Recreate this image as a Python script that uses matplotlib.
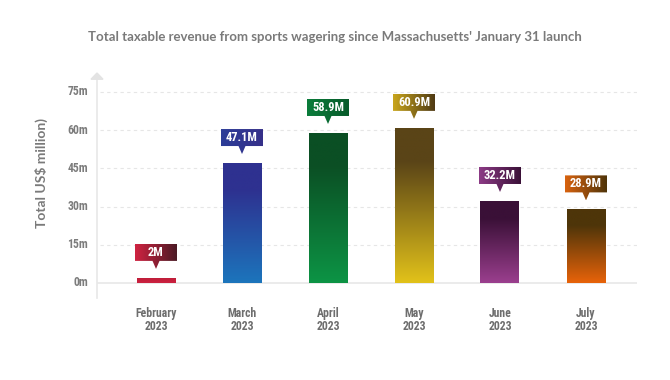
import numpy as np
import matplotlib
matplotlib.use("Agg")
import matplotlib.pyplot as plt
from matplotlib.colors import LinearSegmentedColormap
from matplotlib.patches import Polygon

categories = ["February\n2023", "March\n2023", "April\n2023", "May\n2023", "June\n2023", "July\n2023"]
values = [2.0, 47.1, 58.9, 60.9, 32.2, 28.9]
labels = ["2M", "47.1M", "58.9M", "60.9M", "32.2M", "28.9M"]
yticks = [0, 15, 30, 45, 60, 75]
yticklabels = ["0m", "15m", "30m", "45m", "60m", "75m"]

bar_top = ["#c01e3a", "#2e3190", "#0b4f24", "#5a4417", "#3a1037", "#4e3509"]
bar_bot = ["#cc2240", "#1c75bc", "#0d9445", "#e2c21a", "#9b3f8e", "#e8630a"]
box_left = ["#d02341", "#2b3c98", "#0b7d3b", "#c9a61d", "#8c3b86", "#d9630f"]
box_right = ["#4b1a25", "#363089", "#075a2a", "#4f3a14", "#3a1037", "#4f3409"]

COND = ["Roboto Condensed", "Open Sans Condensed", "Liberation Sans Narrow",
        "Roboto", "DejaVu Sans"]
GRAY = "#7c7c7c"

W, H = 670, 380
fig = plt.figure(figsize=(W / 100, H / 100), dpi=100)
fig.patch.set_facecolor("white")

x_left_px, x_right_px = 97, 637
y_bot_px, y_top_px = 298, 75
ax = fig.add_axes([x_left_px / W, (H - y_bot_px) / H,
                   (x_right_px - x_left_px) / W, (y_bot_px - y_top_px) / H])
ppx = 86.0
ppy = 2.547
XL = (-(156 - x_left_px) / ppx, (x_right_px - 156) / ppx)
YL = (-(y_bot_px - 283) / ppy, (283 - y_top_px) / ppy)
ax.set_xlim(*XL)
ax.set_ylim(*YL)
for s in ax.spines.values():
    s.set_visible(False)
ax.set_xticks([])
ax.set_yticks([])
ax.set_facecolor("none")

x = np.arange(len(values))
bw = 39 / ppx

for t in yticks[1:]:
    ax.plot([-(156 - 100) / ppx, XL[1]], [t, t], ls=(0, (3, 3)),
            color="#e6e6e6", lw=0.8, zorder=0)
ax.axhline(0, color="#e8e8e8", lw=1.2, zorder=0)
x0 = XL[0]
ax.plot([x0, x0], [YL[0], 80], color="#e8e8e8", lw=1.2, zorder=0, clip_on=False)
tri = Polygon([[x0 - 6 / ppx, 80], [x0 + 6 / ppx, 80], [x0, (283 - 73) / ppy]],
              closed=True, color="#e3e3e3", zorder=0, clip_on=False)
ax.add_patch(tri)

for t, lab in zip(yticks, yticklabels):
    ax.text(x0 - 9 / ppx, t, lab, ha="right", va="center", fontsize=8.5,
            color=GRAY, fontweight="bold", family=COND, fontstretch="condensed")

bars = ax.bar(x, values, width=bw, color="none", zorder=2)
for i, b in enumerate(bars):
    v = values[i]
    cmap = LinearSegmentedColormap.from_list(
        "g%d" % i, [(0, bar_top[i]), (0.22, bar_top[i]), (1, bar_bot[i])])
    grad = np.linspace(0, 1, 256).reshape(-1, 1)
    im = ax.imshow(grad, cmap=cmap, aspect="auto", origin="upper",
                   extent=[b.get_x(), b.get_x() + bw, 0, v], zorder=2)
    im.set_clip_path(b)

    bwid = 42 / ppx
    bottom = v + 17 / ppy
    top = bottom + 17 / ppy
    tip = v + 9 / ppy
    hw = 3.5 / ppx
    xc = x[i]
    poly = Polygon([[xc - bwid / 2, bottom], [xc - hw, bottom], [xc, tip],
                    [xc + hw, bottom], [xc + bwid / 2, bottom],
                    [xc + bwid / 2, top], [xc - bwid / 2, top]],
                   closed=True, facecolor="none", edgecolor="none", zorder=3)
    ax.add_patch(poly)
    cmap2 = LinearSegmentedColormap.from_list("b%d" % i, [box_left[i], box_right[i]])
    grad2 = np.linspace(0, 1, 256).reshape(1, -1)
    im2 = ax.imshow(grad2, cmap=cmap2, aspect="auto",
                    extent=[xc - bwid / 2, xc + bwid / 2, tip, top], zorder=3)
    im2.set_clip_path(poly)
    ax.text(xc, (bottom + top) / 2, labels[i], ha="center", va="center",
            color="white", fontsize=9, fontweight="bold", family=COND,
            fontstretch="condensed", zorder=4)

    ax.text(xc, -(320 - 283) / ppy, categories[i], ha="center", va="center",
            fontsize=8.5, color="#6e6e6e", fontweight="bold", family=COND,
            fontstretch="condensed", linespacing=1.05)

ax.set_xlim(*XL)
ax.set_ylim(*YL)

fig.text(335 / W, 1 - 37 / H,
         "Total taxable revenue from sports wagering since Massachusetts' January 31 launch",
         ha="center", va="center", fontsize=9.5, color="#7a7a7a", fontweight="bold",
         family=["Lato", "DejaVu Sans"])
fig.text(41 / W, 1 - 173 / H, "Total US$ million)", rotation=90, ha="center",
         va="center", fontsize=10, color="#7a7a7a", fontweight="bold",
         family=["Lato", "DejaVu Sans"])

fig.savefig("out.png", dpi=100, facecolor="white")
